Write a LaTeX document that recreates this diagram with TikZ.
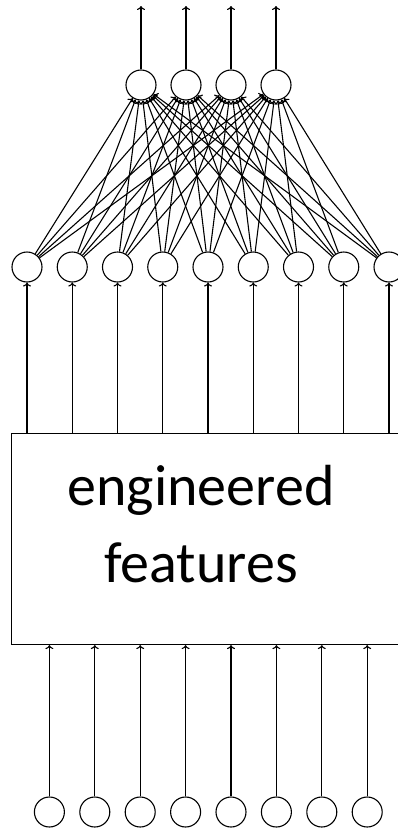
\documentclass[tikz,border=0pt]{standalone}
\usepackage{fontspec}
\usetikzlibrary{arrows.meta}
\newfontfamily\labelfont{Carlito}

\begin{document}
\begin{tikzpicture}[x=1pt,y=-1pt,line width=1.1pt,>={To[length=4pt,width=8pt]},
		neuron/.style={draw,circle,minimum size=30pt,inner sep=0pt},
		featbox/.style={draw,rectangle,minimum width=430pt,minimum height=211pt,anchor=north west}]
			\useasboundingbox (0,0) rectangle (398,830);
			\clip (0,0) rectangle (398,830);
			% output layer
			\foreach \i in {1,...,4} {
				\node (o\i) [neuron] at ({96+45*\i},85) {};
				\coordinate (out\i) at ({96+45*\i},6);
				\draw [->] (o\i) -- (out\i);
			}
			% hidden layer, fully connected to the outputs
			\foreach \i in {1,...,9} {
				\node (h\i) [neuron] at ({-18.25+45.25*\i},267) {};
			}
			\foreach \i in {1,...,9} {
				\foreach \j in {1,...,4} {
					\draw [->] (h\i) -- (o\j);
				}
			}
			% feature extractor
			\node (feat) [featbox] at (11,433) {};
			\node (featlabel) [font=\labelfont\fontsize{58}{68}\selectfont,align=center] at (201,524.5) {engineered\\[9pt]features};
			\foreach \i in {1,...,9} {
				\draw [->] (h\i |- feat.north) -- (h\i);
			}
			% raw inputs
			\foreach \i in {1,...,8} {
				\node (x\i) [neuron] at ({4+45.4*\i},812) {};
				\draw [->] (x\i) -- (x\i |- feat.south);
			}
		\end{tikzpicture}
\end{document}
